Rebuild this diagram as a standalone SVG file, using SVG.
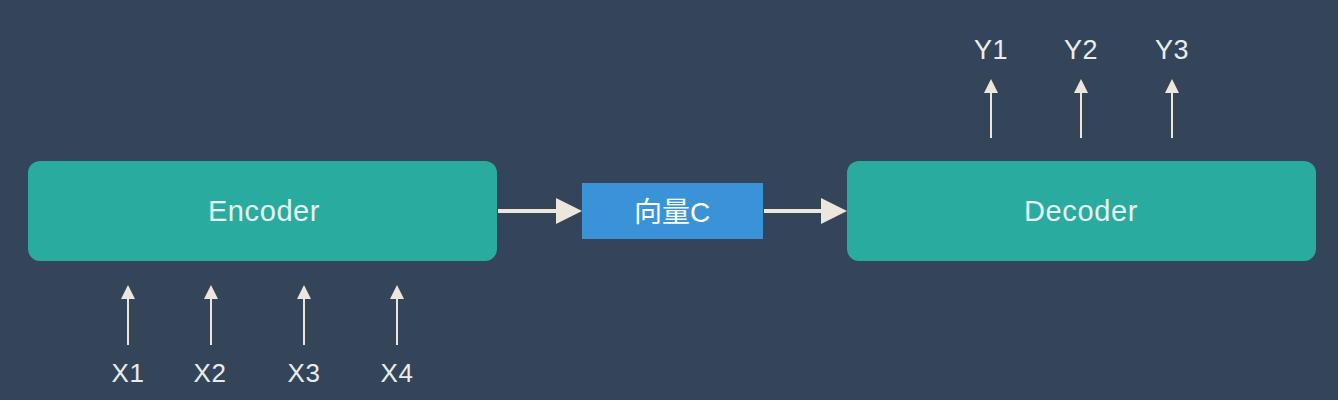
<svg xmlns="http://www.w3.org/2000/svg" width="1338" height="400" viewBox="0 0 1338 400">
<style>
.box{fill:#2aab9f}
.lbl{font-family:"Liberation Sans","Noto Sans CJK SC",sans-serif;font-size:29px;fill:#e6f2f0;text-anchor:middle;letter-spacing:0.6px}
.vc{font-family:"Liberation Sans","Noto Sans CJK SC",sans-serif;font-size:28px;fill:#ffffff;text-anchor:middle}
.io{font-family:"Liberation Sans",sans-serif;font-size:26px;fill:#e8ecee;text-anchor:middle;letter-spacing:0.5px}
.out{font-size:27px}
.thin{stroke:#ece6dc;stroke-width:2;fill:none}
.thick{stroke:#ece6dc;stroke-width:4;fill:none}
.head{fill:#ece6dc}
</style>
<rect width="1338" height="400" fill="#344559"/>
<g id="encoder">
<rect class="box" x="28" y="161" width="469" height="100" rx="12"/>
<text class="lbl" x="264" y="221">Encoder</text>
</g>
<g id="vectorC">
<rect x="582" y="183" width="181" height="56" fill="#3a93d6"/>
<text class="vc" x="672" y="222">向量C</text>
</g>
<g id="decoder">
<rect class="box" x="847" y="161" width="469" height="100" rx="12"/>
<text class="lbl" x="1081" y="221">Decoder</text>
</g>
<g id="inputs">
<text class="io" x="128" y="382">X1</text>
<text class="io" x="210" y="382">X2</text>
<text class="io" x="304" y="382">X3</text>
<text class="io" x="397" y="382">X4</text>
</g>
<g id="outputs">
<text class="io out" x="991" y="59">Y1</text>
<text class="io out" x="1081" y="59">Y2</text>
<text class="io out" x="1172" y="59">Y3</text>
</g>
<g id="connectors">
<line class="thick" x1="498" y1="211" x2="556" y2="211"/>
<polygon class="head" points="556,198 582,211 556,224"/>
<line class="thick" x1="764" y1="211" x2="821" y2="211"/>
<polygon class="head" points="821,198 847,211 821,224"/>
<line class="thin" x1="128" y1="297" x2="128" y2="345"/>
<polygon class="head" points="121,299 128,285 135,299"/>
<line class="thin" x1="211" y1="297" x2="211" y2="345"/>
<polygon class="head" points="204,299 211,285 218,299"/>
<line class="thin" x1="304" y1="297" x2="304" y2="345"/>
<polygon class="head" points="297,299 304,285 311,299"/>
<line class="thin" x1="397" y1="297" x2="397" y2="345"/>
<polygon class="head" points="390,299 397,285 404,299"/>
<line class="thin" x1="991" y1="91" x2="991" y2="138"/>
<polygon class="head" points="984,93 991,79 998,93"/>
<line class="thin" x1="1081" y1="91" x2="1081" y2="138"/>
<polygon class="head" points="1074,93 1081,79 1088,93"/>
<line class="thin" x1="1172" y1="91" x2="1172" y2="138"/>
<polygon class="head" points="1165,93 1172,79 1179,93"/>
</g>
</svg>
